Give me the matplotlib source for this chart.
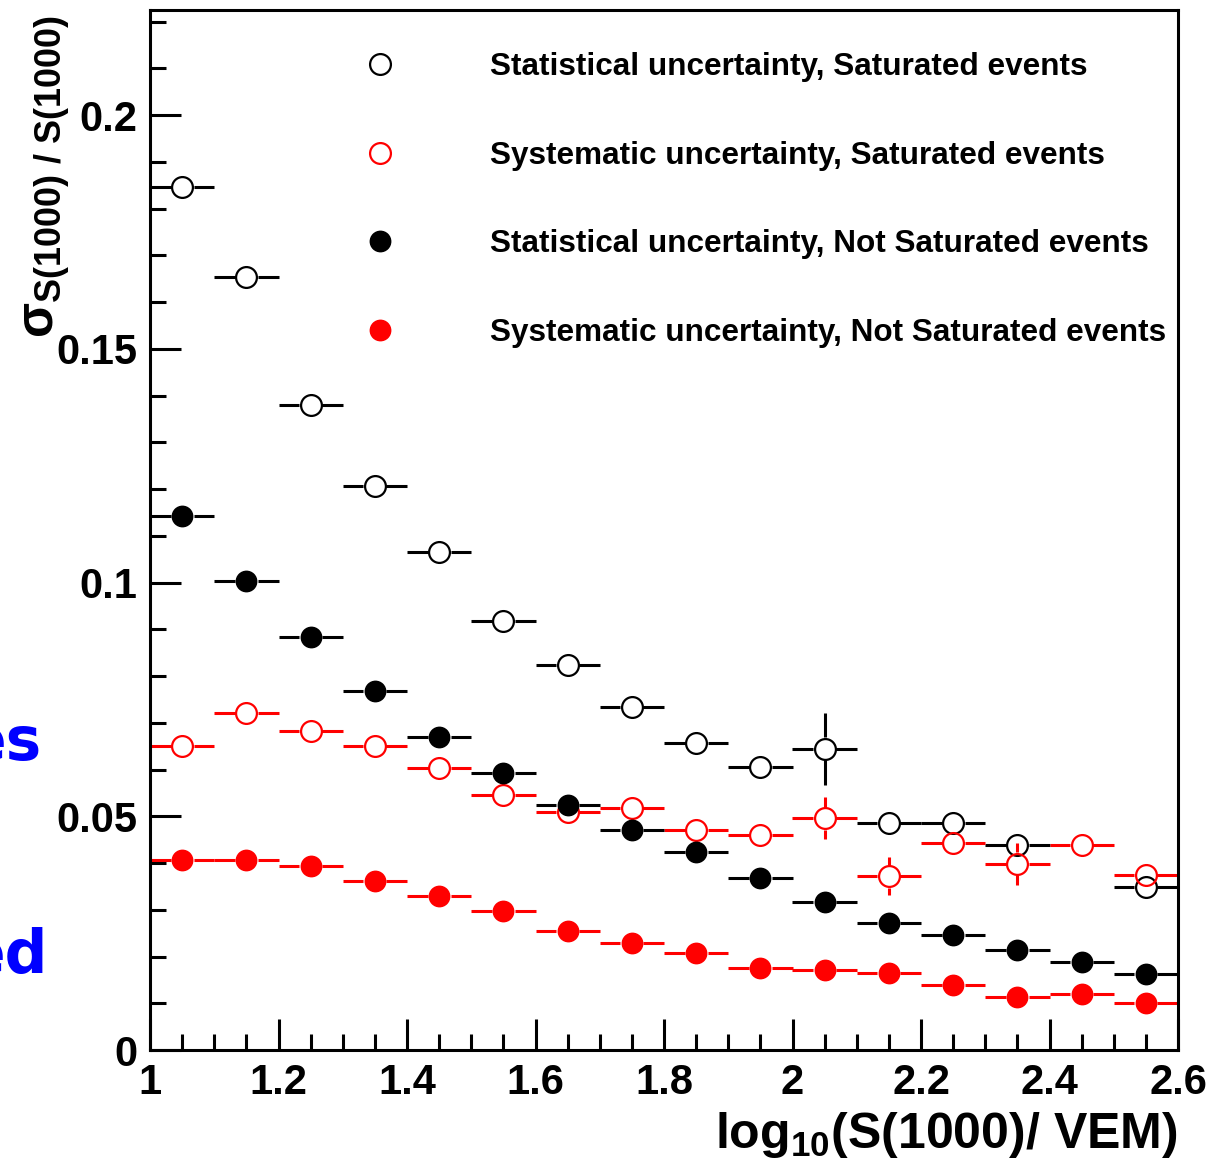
import numpy as np
import matplotlib
matplotlib.use('Agg')
import matplotlib.pyplot as plt
from matplotlib.ticker import MultipleLocator, FuncFormatter

plt.rcParams['font.family'] = ['Liberation Sans', 'DejaVu Sans']
plt.rcParams['font.weight'] = 'bold'
plt.rcParams['axes.labelweight'] = 'bold'
plt.rcParams['mathtext.fontset'] = 'custom'
plt.rcParams['mathtext.rm'] = 'Liberation Sans:bold'
plt.rcParams['mathtext.bf'] = 'Liberation Sans:bold'
plt.rcParams['mathtext.it'] = 'Liberation Sans:bold:italic'

# bin centres of log10(S(1000)/VEM), half bin width 0.05
x_bins = [1.05, 1.15, 1.25, 1.35, 1.45, 1.55, 1.65, 1.75,
          1.85, 1.95, 2.05, 2.15, 2.25, 2.35, 2.45, 2.55]
bin_half = 0.05

# statistical uncertainty, saturated events (empty 2.45 bin)
x_stat_sat = [1.05, 1.15, 1.25, 1.35, 1.45, 1.55, 1.65, 1.75,
              1.85, 1.95, 2.05, 2.15, 2.25, 2.35, 2.55]
stat_sat = [0.1846, 0.1654, 0.1380, 0.1207, 0.1065, 0.0918, 0.0824, 0.0734,
            0.0657, 0.0605, 0.0644, 0.0486, 0.0486, 0.0439, 0.0349]
stat_sat_err = [0.002, 0.002, 0.002, 0.002, 0.002, 0.002, 0.002, 0.002,
                0.002, 0.002, 0.0077, 0.002, 0.002, 0.002, 0.002]

# systematic uncertainty, saturated events
sys_sat = [0.0650, 0.0721, 0.0683, 0.0650, 0.0603, 0.0546, 0.0509, 0.0518,
           0.0471, 0.0460, 0.0496, 0.0372, 0.0443, 0.0398, 0.0439, 0.0374]
sys_sat_err = [0.001, 0.001, 0.001, 0.001, 0.001, 0.001, 0.001, 0.001,
               0.001, 0.001, 0.0045, 0.0041, 0.001, 0.0045, 0.001, 0.001]

# statistical uncertainty, not saturated events
stat_nsat = [0.1142, 0.1003, 0.0884, 0.0768, 0.0670, 0.0593, 0.0524, 0.0471,
             0.0424, 0.0368, 0.0317, 0.0272, 0.0246, 0.0214, 0.0188, 0.0163]
stat_nsat_err = [0.001] * 16

# systematic uncertainty, not saturated events
sys_nsat = [0.0407, 0.0407, 0.0394, 0.0362, 0.0330, 0.0297, 0.0255, 0.0229,
            0.0208, 0.0175, 0.0171, 0.0165, 0.0139, 0.0113, 0.0120, 0.0101]
sys_nsat_err = [0.001] * 16

labels = ['Statistical uncertainty, Saturated events',
          'Systematic uncertainty, Saturated events',
          'Statistical uncertainty, Not Saturated events',
          'Systematic uncertainty, Not Saturated events']

W, H = 1217, 1173
ax_l, ax_b, ax_w, ax_h = 150, 123, 1028, 1040
xlim = (1.0, 2.6)
ylim = (0.0, 0.2225)

fig = plt.figure(figsize=(W / 100, H / 100), dpi=100)
ax = fig.add_axes([ax_l / W, ax_b / H, ax_w / W, ax_h / H])
ax.set_xlim(*xlim)
ax.set_ylim(*ylim)

# marker radius in data units, so error bars stop at the circle (ROOT style)
r_px = 11.5
gap_x = r_px * (xlim[1] - xlim[0]) / ax_w
gap_y = r_px * (ylim[1] - ylim[0]) / ax_h
lw_err = 2.2


def draw_points(x, y, yerr, color, filled, label):
    x = np.asarray(x)
    y = np.asarray(y)
    yerr = np.asarray(yerr)
    ax.hlines(y, x - bin_half, x - gap_x, color=color, lw=lw_err)
    ax.hlines(y, x + gap_x, x + bin_half, color=color, lw=lw_err)
    big = yerr > gap_y
    ax.vlines(x[big], y[big] + gap_y, y[big] + yerr[big], color=color, lw=lw_err)
    ax.vlines(x[big], y[big] - yerr[big], y[big] - gap_y, color=color, lw=lw_err)
    if filled:
        ax.plot(x, y, ls='none', marker='o', ms=14.5, mfc=color, mec=color,
                mew=1.2, label=label, zorder=3)
    else:
        ax.plot(x, y, ls='none', marker='o', ms=15, mfc='none', mec=color,
                mew=1.6, label=label, zorder=3)


draw_points(x_stat_sat, stat_sat, stat_sat_err, 'black', False, labels[0])
draw_points(x_bins, sys_sat, sys_sat_err, 'red', False, labels[1])
draw_points(x_bins, stat_nsat, stat_nsat_err, 'black', True, labels[2])
draw_points(x_bins, sys_nsat, sys_nsat_err, 'red', True, labels[3])

# axes styling
for s in ax.spines.values():
    s.set_linewidth(2.2)
ax.xaxis.set_major_locator(MultipleLocator(0.2))
ax.xaxis.set_minor_locator(MultipleLocator(0.05))
ax.yaxis.set_major_locator(MultipleLocator(0.05))
ax.yaxis.set_minor_locator(MultipleLocator(0.01))
fmt = FuncFormatter(lambda v, p: '%g' % round(v, 6))
ax.xaxis.set_major_formatter(fmt)
ax.yaxis.set_major_formatter(fmt)
ax.tick_params(which='both', direction='in', width=2.2, top=False, right=False,
               labelsize=30)
ax.tick_params(which='major', length=22, pad=9)
ax.tick_params(which='minor', length=11.5)

ax.set_xlabel(r'log$_{\mathrm{10}}$(S(1000)/ VEM)', fontsize=36, loc='right')
ax.xaxis.set_label_coords(1.0, -0.058)
ax.set_ylabel(r'σ$_{\mathrm{S(1000)\ /\ S(1000)}}$', fontsize=37, loc='top')
ax.yaxis.set_label_coords(-0.076, 0.995)

leg = ax.legend(loc='upper left', bbox_to_anchor=(348 / W, 1 - 52 / H),
                bbox_transform=fig.transFigure, frameon=False, numpoints=1,
                handlelength=2.0, handletextpad=2.5, labelspacing=1.86,
                borderpad=0, borderaxespad=0,
                prop={'size': 22.7, 'weight': 'bold'})

# cut-off slide text at the left edge
fig.text(42 / W, 1 - 760 / H, 'es', ha='right', va='baseline', color='blue',
         fontsize=43, fontweight='bold', family='DejaVu Sans')
fig.text(48 / W, 1 - 973 / H, 'ed', ha='right', va='baseline', color='blue',
         fontsize=43, fontweight='bold', family='DejaVu Sans')

fig.savefig('out.png', dpi=100)
